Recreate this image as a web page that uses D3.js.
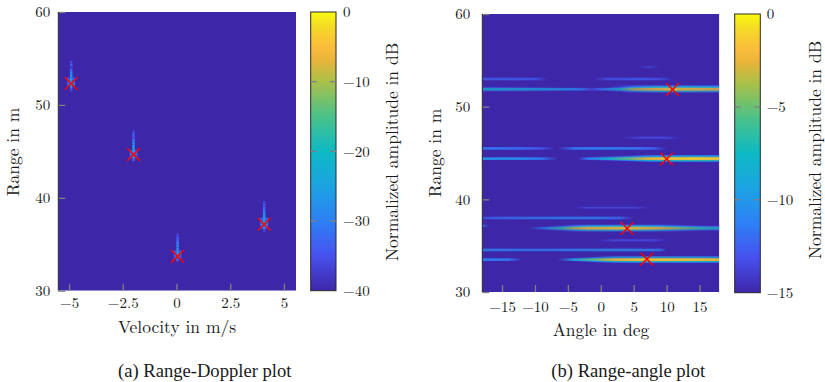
<!DOCTYPE html>
<html><head><meta charset="utf-8">
<script src="https://cdn.jsdelivr.net/npm/d3@7"></script>
<style>
html,body{margin:0;padding:0;background:#fff;}
svg{display:block;}
</style></head><body>
<svg id="fig" width="825" height="382"></svg>
<script>
// ---------- Range-Doppler panel data ----------
const rdVelTicks = [-5, -2.5, 0, 2.5, 5];
const rdRangeTicks = [30, 40, 50, 60];
const rdBarTicks = [0, -10, -20, -30, -40];
// detected targets (red crosses)
const rdDetVelocity = [-4.9, -2.0, 0.05, 4.08];
const rdDetRange = [52.3, 44.65, 33.7, 37.15];
// Doppler column of each target: [range in m, amplitude in dB]
const rdColumnVelocity = [-4.9, -2.0, 0.05, 4.08];
const rdColumnBins = [
  [[54.6,-36],[54.3,-34],[54.0,-37],[53.7,-32],[53.4,-29],[53.1,-28],[52.8,-27],[52.5,-25],[52.2,-24],[51.9,-30],[51.6,-36]],
  [[47.1,-36],[46.8,-34],[46.5,-35],[46.2,-31],[45.9,-29],[45.6,-28],[45.3,-27],[45.0,-26],[44.7,-25],[44.4,-27],[44.1,-33]],
  [[36.0,-36],[35.7,-35],[35.4,-33],[35.1,-31],[34.8,-29],[34.5,-28],[34.2,-27],[33.9,-26],[33.6,-27],[33.3,-33]],
  [[39.5,-36],[39.2,-35],[38.9,-33],[38.6,-31],[38.3,-29],[38.0,-27],[37.7,-26],[37.4,-24],[37.1,-24],[36.8,-30],[36.5,-36]]
];
// neighbouring Doppler bins (both sides of each column)
const rdSideBins = [
  [[52.8,-34],[52.5,-32],[52.2,-31]],
  [[45.0,-34],[44.7,-32],[44.4,-33]],
  [[34.2,-35],[33.9,-33],[33.6,-34]],
  [[37.7,-33],[37.4,-30],[37.1,-30],[36.8,-35]]
];

// ---------- Range-angle panel data ----------
const raAngleTicks = [-15, -10, -5, 0, 5, 10, 15];
const raRangeTicks = [30, 40, 50, 60];
const raBarTicks = [0, -5, -10, -15];
const raDetAngle = [10.9, 10.0, 4.0, 7.0];
const raDetRange = [51.85, 44.35, 36.85, 33.55];
// horizontal streaks: range in m and [angle in deg, amplitude in dB] along each
const raStreakRange = [53.0, 53.0, 52.15, 51.9, 54.3, 46.65, 45.5, 45.5, 44.6, 44.4, 44.4,
                       39.1, 38.0, 37.15, 37.1, 36.9, 35.6, 34.55, 33.5, 33.5];
const raStreakProfile = [
  [[-18,-12],[-14,-11.8],[-10,-12.2],[-8,-15]],
  [[-1,-15],[1,-12.5],[6,-12],[9,-12.5],[11,-15]],
  [[1,-15],[4,-11.5],[10,-10.5],[18,-11]],
  [[-18,-7.5],[-14,-8],[-10,-8.5],[-6,-9.5],[-3,-10.5],[-1.5,-13],[-0.5,-12],[1,-10],[3,-7],[5,-3],[8,-1],[11,-0.3],[15,-0.8],[18,-1.2]],
  [[5.5,-15],[7.5,-13.3],[9,-15]],
  [[3,-15],[6,-13],[10,-13],[12,-15]],
  [[-18,-11],[-12,-11.5],[-9,-12.5],[-7,-15]],
  [[-6.5,-15],[-4,-11],[0,-10.5],[5,-11],[8,-12],[10,-15]],
  [[0,-15],[4,-11.5],[10,-11],[18,-11.5]],
  [[-18,-9.5],[-12,-10],[-9,-11],[-6.5,-15]],
  [[-3.5,-15],[-2,-11],[1,-8],[4,-5],[7,-2],[10,-1],[14,-0.5],[18,-0.8]],
  [[-4,-15],[-2,-13.3],[5,-13.3],[7.5,-15]],
  [[-18,-12.5],[-16,-11.5],[-12,-11],[-6,-10.5],[0,-10.5],[3,-11.5],[5,-15]],
  [[-18,-11],[-17,-15]],
  [[-6,-15],[-3,-12],[4,-11.5],[12,-12],[18,-13]],
  [[-11,-15],[-8,-10],[-6,-6],[-4,-3],[-2,-1],[2,-0.5],[6,-0.5],[9,-1.5],[12,-4],[15,-6],[18,-7]],
  [[-0.5,-15],[2,-13],[8,-13],[10,-15]],
  [[-18,-10],[-14,-10.5],[-10,-11],[-5,-10.5],[0,-10],[5,-10],[9,-11],[10,-15]],
  [[-18,-10.5],[-14,-11],[-12,-15]],
  [[-6.5,-15],[-4,-9],[-1,-5],[2,-2],[6,-1],[10,-0.8],[14,-1],[18,-1.5]]
];

// ---------- colour map (parula-like) ----------
const parulaStops = [0, .125, .25, .375, .5, .625, .75, .825, .875, .95, 1];
const parulaColors = ["#3e26a8","#4751ee","#2d80f5","#1ca3e3","#0db9c4","#4ac28a","#a9c049","#e8b43a","#fbbc3c","#f5db24","#f9fb0e"];
function makeColor(min, max) {
  return d3.scaleLinear()
    .domain(parulaStops.map(t => min + t * (max - min)))
    .range(parulaColors)
    .interpolate(d3.interpolateRgb)
    .clamp(true);
}

const FONT = '"Latin Modern Roman", "Liberation Serif", serif';
const CAPTION_FONT = '"Liberation Serif", "Times New Roman", serif';
const svg = d3.select("#fig");
const defs = svg.append("defs");
const TICK = "#808080";

function label(sel, size, fam) {
  return sel.attr("font-family", fam || FONT).attr("font-size", size).attr("fill", "#1a1a1a");
}

function axes(g, xs, ys, xTicks, yTicks, yPad, xPad, xFmt) {
  const [x0, x1] = xs.range();
  const [y1, y0] = ys.range();
  const ya = g.append("g").attr("transform", `translate(${x0},0)`)
    .call(d3.axisLeft(ys).tickValues(yTicks).tickSize(-7).tickSizeOuter(0).tickPadding(yPad));
  const xa = g.append("g").attr("transform", `translate(0,${y1})`)
    .call(d3.axisBottom(xs).tickValues(xTicks).tickSize(-7).tickSizeOuter(0).tickPadding(xPad).tickFormat(xFmt));
  [ya, xa].forEach(a => {
    a.attr("font-family", FONT);
    a.select(".domain").remove();
    a.selectAll(".tick line").attr("stroke", TICK).attr("stroke-width", 1.3);
    label(a.selectAll(".tick text"), 15);
  });
  g.append("line").attr("x1", x0).attr("x2", x0).attr("y1", y0).attr("y2", y1)
    .attr("stroke", "#222").attr("stroke-width", 1);
}

function crosses(g, xs, ys, xv, yv) {
  const s = 6.3;
  g.selectAll("path.det").data(xv.map((v, i) => [v, yv[i]])).join("path")
    .attr("class", "det")
    .attr("d", d => {
      const cx = xs(d[0]), cy = ys(d[1]);
      return `M${cx - s},${cy - s}L${cx + s},${cy + s}M${cx - s},${cy + s}L${cx + s},${cy - s}`;
    })
    .attr("stroke", "#ff0000").attr("stroke-width", 1.5).attr("fill", "none");
}

function colorbar(id, x0, x1, y0, y1, min, max, ticks, labelX, title, titleX, titleY) {
  const grad = defs.append("linearGradient").attr("id", id)
    .attr("x1", 0).attr("x2", 0).attr("y1", 1).attr("y2", 0);
  grad.selectAll("stop").data(parulaStops).join("stop")
    .attr("offset", d => d).attr("stop-color", (d, i) => parulaColors[i]);
  const cs = d3.scaleLinear().domain([min, max]).range([y1, y0]);
  const g = svg.append("g");
  g.append("rect").attr("x", x0).attr("y", y0).attr("width", x1 - x0).attr("height", y1 - y0)
    .attr("fill", `url(#${id})`).attr("stroke", "#2a2a2a").attr("stroke-width", 1);
  const inner = ticks.filter(t => t !== min && t !== max);
  g.selectAll("line.l").data(inner).join("line").attr("class", "l")
    .attr("x1", x0).attr("x2", x0 + 6).attr("y1", d => cs(d)).attr("y2", d => cs(d))
    .attr("stroke", TICK).attr("stroke-width", 1.3);
  g.selectAll("line.r").data(inner).join("line").attr("class", "r")
    .attr("x1", x1 - 6).attr("x2", x1).attr("y1", d => cs(d)).attr("y2", d => cs(d))
    .attr("stroke", TICK).attr("stroke-width", 1.3);
  label(g.selectAll("text.t").data(ticks).join("text").attr("class", "t"), 15)
    .attr("x", labelX).attr("y", d => cs(d)).attr("dy", "0.35em")
    .text(d => d3.format("")(d));
  label(g.append("text"), 17.5).attr("transform", `translate(${titleX},${titleY}) rotate(-90)`)
    .attr("text-anchor", "middle").text(title);
}

// ================= (a) Range-Doppler =================
{
  const xs = d3.scaleLinear().domain([-5.5, 5.56]).range([58.3, 296]);
  const ys = d3.scaleLinear().domain([30, 60]).range([290.7, 12]);
  const color = makeColor(-40, 0);
  const g = svg.append("g");
  defs.append("clipPath").attr("id", "clipRD").append("rect")
    .attr("x", 58.3).attr("y", 12).attr("width", 296 - 58.3).attr("height", 290.7 - 12);
  const hm = g.append("g").attr("clip-path", "url(#clipRD)");
  hm.append("rect").attr("x", 58.3).attr("y", 12).attr("width", 296 - 58.3).attr("height", 290.7 - 12)
    .attr("fill", color(-40));
  const dv = 0.12, dr = 0.3;
  const cells = [];
  rdColumnBins.forEach((col, i) => {
    const v = rdColumnVelocity[i];
    rdSideBins[i].forEach(([r, db]) => {
      cells.push({v: v - dv, r, db});
      cells.push({v: v + dv, r, db});
    });
    col.forEach(([r, db]) => cells.push({v, r, db}));
  });
  hm.selectAll("rect.cell").data(cells).join("rect").attr("class", "cell")
    .attr("x", d => xs(d.v - dv / 2)).attr("width", d => xs(d.v + dv / 2) - xs(d.v - dv / 2))
    .attr("y", d => ys(d.r + dr / 2)).attr("height", d => ys(d.r - dr / 2) - ys(d.r + dr / 2))
    .attr("fill", d => color(d.db));
  axes(g, xs, ys, rdVelTicks, rdRangeTicks, 8, 7, d3.format(""));
  crosses(g, xs, ys, rdDetVelocity, rdDetRange);
  label(g.append("text"), 17.5).attr("x", 177).attr("y", 333).attr("text-anchor", "middle")
    .text("Velocity in m/s");
  label(g.append("text"), 17.5).attr("transform", "translate(18.5,152) rotate(-90)")
    .attr("text-anchor", "middle").text("Range in m");
  colorbar("cbRD", 310.7, 336, 12, 290.7, -40, 0, rdBarTicks, 343, "Normalized amplitude in dB", 398, 152);
  label(svg.append("text"), 18.6, CAPTION_FONT).attr("x", 204.7).attr("y", 377).attr("text-anchor", "middle")
    .text("(a) Range-Doppler plot");
}

// ================= (b) Range-angle =================
{
  const xs = d3.scaleLinear().domain([-18, 18]).range([482.3, 719.3]);
  const ys = d3.scaleLinear().domain([30, 60]).range([292, 14]);
  const color = makeColor(-15, 0);
  const g = svg.append("g");
  defs.append("clipPath").attr("id", "clipRA").append("rect")
    .attr("x", 482.3).attr("y", 14).attr("width", 719.3 - 482.3).attr("height", 292 - 14);
  const hm = g.append("g").attr("clip-path", "url(#clipRA)");
  hm.append("rect").attr("x", 482.3).attr("y", 14).attr("width", 719.3 - 482.3).attr("height", 292 - 14)
    .attr("fill", color(-15));
  // each streak is spread over a few thin range rows, fading away from its centre
  const rowOffset = [-0.3, -0.2, -0.1, 0, 0.1, 0.2, 0.3];
  const rowAtten = [-10, -6, -1, 0, -1, -6, -10];
  const rows = [];
  raStreakProfile.forEach((prof, i) => {
    rowOffset.forEach((off, k) => rows.push({i, k, r: raStreakRange[i] + off, prof, att: rowAtten[k]}));
  });
  rows.forEach((d, n) => {
    const a0 = d.prof[0][0], a1 = d.prof[d.prof.length - 1][0];
    const gx0 = xs(a0), gx1 = xs(a1);
    const grad = defs.append("linearGradient").attr("id", "ra" + n)
      .attr("gradientUnits", "userSpaceOnUse")
      .attr("x1", gx0).attr("x2", gx1).attr("y1", 0).attr("y2", 0);
    grad.selectAll("stop").data(d.prof).join("stop")
      .attr("offset", p => (xs(p[0]) - gx0) / (gx1 - gx0))
      .attr("stop-color", p => color(p[1] + d.att));
    d.id = "ra" + n;
    d.x0 = gx0; d.x1 = gx1;
  });
  hm.selectAll("rect.row").data(rows).join("rect").attr("class", "row")
    .attr("x", d => d.x0).attr("width", d => d.x1 - d.x0)
    .attr("y", d => ys(d.r + 0.05)).attr("height", d => ys(d.r - 0.05) - ys(d.r + 0.05))
    .attr("fill", d => `url(#${d.id})`);
  axes(g, xs, ys, raAngleTicks, raRangeTicks, 12, 9, d3.format(""));
  crosses(g, xs, ys, raDetAngle, raDetRange);
  label(g.append("text"), 17.5).attr("x", 601).attr("y", 336).attr("text-anchor", "middle")
    .text("Angle in deg");
  label(g.append("text"), 17.5).attr("transform", "translate(441,153) rotate(-90)")
    .attr("text-anchor", "middle").text("Range in m");
  colorbar("cbRA", 734.7, 760.3, 14, 292.7, -15, 0, raBarTicks, 766.7, "Normalized amplitude in dB", 820.5, 150);
  label(svg.append("text"), 18.6, CAPTION_FONT).attr("x", 628.3).attr("y", 377).attr("text-anchor", "middle")
    .text("(b) Range-angle plot");
}
</script>
</body></html>
